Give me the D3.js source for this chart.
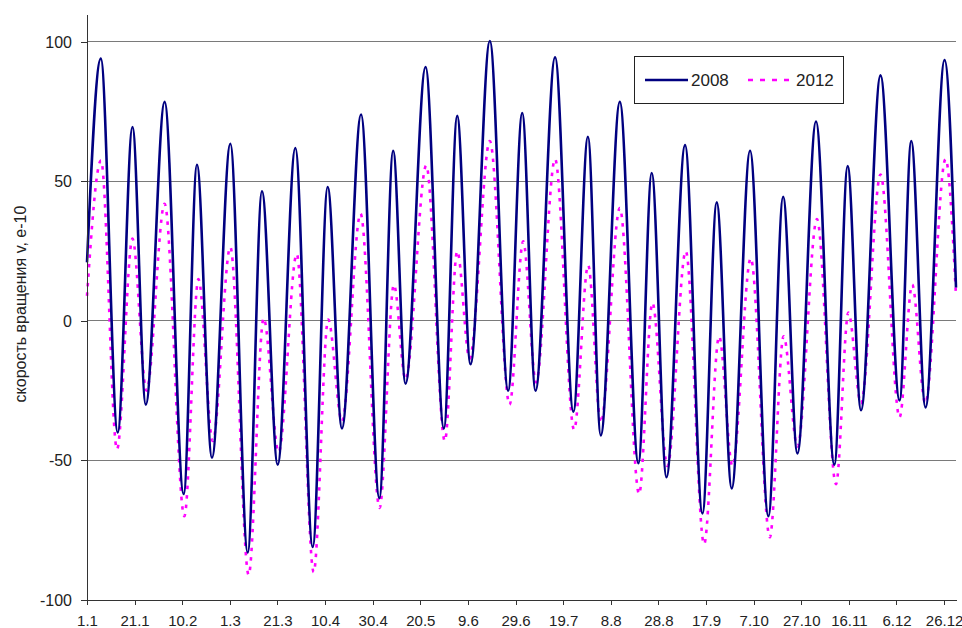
<!DOCTYPE html>
<html>
<head>
<meta charset="utf-8">
<script src="https://cdn.jsdelivr.net/npm/d3@7"></script>
<style>
  html, body { margin: 0; padding: 0; background: #fff; }
  svg { display: block; font-family: "Liberation Sans", Arial, sans-serif; }
</style>
</head>
<body>
<svg id="chart" width="962" height="628"></svg>
<script>
// ---- Data ----
// Day index (0 = 1 Jan) of turning points and their values, series 2008
const days2008 = [0, 5.8, 12.9, 19.1, 24.7, 32.6, 40.6, 46.2, 52.5, 60.2, 67.5, 73.5, 80.1, 87.5, 94.8,
  101.1, 107.1, 115.1, 122.8, 128.6, 133.8, 142.2, 149.9, 155.5, 161.1, 169.2, 176.9, 182.8, 188.4,
  196.6, 204.3, 210.4, 215.8, 223.8, 231.6, 237.2, 243.4, 251.2, 258.5, 264.5, 270.8, 278.5, 286.2,
  292.4, 298.4, 306.2, 313.9, 319.5, 325.1, 333.3, 341.3, 346.2, 352.2, 360.2, 365];
const vals2008 = [21, 94, -40, 69.5, -30, 78.5, -62, 56, -49, 63.5, -83, 46.5, -51.5, 62, -81,
  48, -38.5, 74, -63.5, 61, -22.5, 91, -38.5, 73.5, -15.5, 100.3, -25, 74.5, -25,
  94.5, -32.5, 66, -41, 78.5, -51, 53, -56, 63, -69, 42.5, -60, 61, -70,
  44.5, -47.5, 71.5, -51.5, 55.5, -32, 88, -28.5, 64.5, -31, 93.5, 12];

// Series 2012
const days2012 = [0, 5.9, 12.6, 19.1, 25, 32.6, 40.9, 46.8, 52.8, 60.2, 67.9, 74.2, 80.5, 88.1, 95.2,
  101.3, 107.1, 114.9, 122.9, 128.9, 133.8, 142.5, 150.3, 155.5, 160.7, 169.2, 177.5, 183.2, 188.6,
  196.6, 204.6, 210.5, 215.8, 223.8, 231.9, 237.5, 243.8, 251.5, 259.2, 265.5, 271.1, 278.8, 286.8,
  292.6, 298.4, 306.6, 314.6, 319.8, 325.1, 333.3, 341.3, 346.6, 352.1, 360.6, 365];
const vals2012 = [9, 57.5, -46, 29.5, -25, 42, -70, 15, -43, 26.5, -91, 1, -47, 24, -90,
  0.5, -36, 38.5, -67, 13, -21, 55.7, -43, 25, -13.5, 64.5, -30, 28.5, -22,
  58, -39, 20, -36.5, 40.5, -62, 6.5, -52, 25, -80, -5.5, -52, 22.5, -77.5,
  -5.5, -45, 36.5, -58.5, 3, -29.5, 52.5, -34.5, 13, -29.5, 58, 9];

const tickDays = [0, 20, 40, 60, 80, 100, 120, 140, 160, 180, 200, 220, 240, 260, 280, 300, 320, 340, 360];
const tickLabels = ["1.1", "21.1", "10.2", "1.3", "21.3", "10.4", "30.4", "20.5", "9.6", "29.6",
  "19.7", "8.8", "28.8", "17.9", "7.10", "27.10", "16.11", "6.12", "26.12"];
const yTicks = [-100, -50, 0, 50, 100];
const seriesNames = ["2008", "2012"];
const yTitle = "скорость вращения v, e-10";

// ---- Chart ----
const svg = d3.select("#chart");
const x = d3.scaleLinear().domain([0, 365]).range([87, 956]);
const y = d3.scaleLinear().domain([-100, 110]).range([600, 14]);

// gridlines
svg.append("g").selectAll("line").data(yTicks).join("line")
  .attr("x1", x(0)).attr("x2", x(365))
  .attr("y1", d => y(d)).attr("y2", d => y(d))
  .attr("stroke", "#7a7a7a").attr("stroke-width", 1)
  .attr("shape-rendering", "crispEdges");

// series
const toPts = (ds, vs) => ds.map((d, i) => [d, vs[i]]);
const line = d3.line().x(d => x(d[0])).y(d => y(d[1])).curve(d3.curveMonotoneX);

svg.append("path").datum(toPts(days2012, vals2012))
  .attr("d", line).attr("fill", "none")
  .attr("stroke", "#ff00ff").attr("stroke-width", 2.6)
  .attr("stroke-dasharray", "3.5,6");

svg.append("path").datum(toPts(days2008, vals2008))
  .attr("d", line).attr("fill", "none")
  .attr("stroke", "#000080").attr("stroke-width", 2.6)
  .attr("stroke-linejoin", "round");

// axes
const yAxis = svg.append("g").attr("transform", `translate(${x(0)},0)`)
  .call(d3.axisLeft(y).tickValues(yTicks).tickSize(6).tickSizeOuter(0).tickPadding(9)
    .tickFormat(d => d));
yAxis.selectAll("text").attr("font-size", 16).attr("fill", "#222")
  .attr("font-family", "Liberation Sans, Arial, sans-serif");
yAxis.selectAll("line,path").attr("stroke", "#333").attr("shape-rendering", "crispEdges");

const xAxis = svg.append("g").attr("transform", `translate(0,${y(-100)})`)
  .call(d3.axisBottom(x).tickValues(tickDays).tickSize(5).tickSizeOuter(0).tickPadding(10)
    .tickFormat((d, i) => tickLabels[i]));
xAxis.selectAll("text").attr("font-size", 15).attr("fill", "#222")
  .attr("font-family", "Liberation Sans, Arial, sans-serif");
xAxis.selectAll("line,path").attr("stroke", "#333").attr("shape-rendering", "crispEdges");

// y title
svg.append("text")
  .attr("transform", "translate(26,304) rotate(-90)")
  .attr("text-anchor", "middle")
  .attr("font-size", 16).attr("fill", "#222")
  .text(yTitle);

// legend
const lg = svg.append("g");
lg.append("rect").attr("x", 634.5).attr("y", 56.5).attr("width", 209).attr("height", 47)
  .attr("fill", "#fff").attr("stroke", "#222").attr("stroke-width", 1);
lg.append("line").attr("x1", 645).attr("x2", 688).attr("y1", 80).attr("y2", 80)
  .attr("stroke", "#000080").attr("stroke-width", 2.6);
lg.append("text").attr("x", 691).attr("y", 86).attr("font-size", 17).attr("fill", "#222").text(seriesNames[0]);
lg.append("line").attr("x1", 748).attr("x2", 794).attr("y1", 80).attr("y2", 80)
  .attr("stroke", "#ff00ff").attr("stroke-width", 2.6).attr("stroke-dasharray", "5,7");
lg.append("text").attr("x", 796).attr("y", 86).attr("font-size", 17).attr("fill", "#222").text(seriesNames[1]);
</script>
</body>
</html>
